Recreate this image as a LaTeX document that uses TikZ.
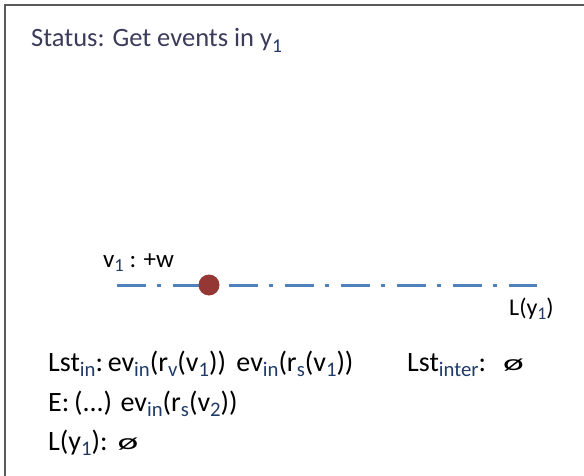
\documentclass[tikz,border=0pt]{standalone}
\usepackage{fontspec}
\setmainfont{Carlito}
\usepackage{graphicx}
\definecolor{titlecol}{HTML}{3B3B5B}
\definecolor{linecol}{HTML}{4F81BD}
\definecolor{dotcol}{HTML}{953735}
\definecolor{framecol}{HTML}{5A5A5A}
\definecolor{subcol}{HTML}{1F3A66}
\newcommand\sbs[1]{\raisebox{-0.4ex}{\scalebox{0.74}{\color{subcol}#1}}}
\newcommand\emptyglyph{\raisebox{0.05ex}{\scalebox{1.4}[0.8]{ø}}}
\tikzset{
  txt/.style={inner sep=0pt, anchor=base west, font=\fontsize{28}{32}\selectfont},
  lbl/.style={inner sep=0pt, anchor=base west, font=\fontsize{25}{30}\selectfont},
  ttl/.style={inner sep=0pt, anchor=base west, font=\fontsize{26.5}{30}\selectfont, text=titlecol},
  frameline/.style={draw=framecol, line width=2pt},
  dashline/.style={draw=linecol, line width=3pt, dash pattern=on 29pt off 11pt on 4pt off 12pt},
  dotnode/.style={circle, fill=dotcol, minimum size=21pt, inner sep=0pt}
}
\begin{document}
\begin{tikzpicture}[x=1pt,y=-1pt]
\useasboundingbox (0,0) rectangle (584,476);
\coordinate (fa) at (5,476);
\coordinate (fb) at (5,5);
\coordinate (fc) at (584,5);
\draw[frameline] (fa) -- (fb) -- (fc);
\node[ttl] (title) at (31,47) {Status: Get events in y\sbs{1}};
\coordinate (ls) at (117,285);
\coordinate (le) at (537,285);
\draw[dashline] (ls) -- (le);
\node[dotnode] (dot) at (209,285) {};
\node[lbl] (vlab) at (103,267) {v\sbs{1} : +w};
\node[lbl, font=\fontsize{24}{28}\selectfont] (llab) at (509,315) {L(y\sbs{1})};
\node[txt] (lstin) at (48,371) {Lst\sbs{in}:\,ev\sbs{in}(r\sbs{v}(v\sbs{1}))\hspace{4pt} ev\sbs{in}(r\sbs{s}(v\sbs{1}))};
\node[txt] (lstinter) at (407,371) {Lst\sbs{inter}:\hspace{17pt}\emptyglyph};
\node[txt] (erow) at (48,411) {E:\,(...) ev\sbs{in}(r\sbs{s}(v\sbs{2}))};
\node[txt] (lrow) at (48,450) {L(y\sbs{1}):\hspace{10pt}\emptyglyph};
\end{tikzpicture}
\end{document}
